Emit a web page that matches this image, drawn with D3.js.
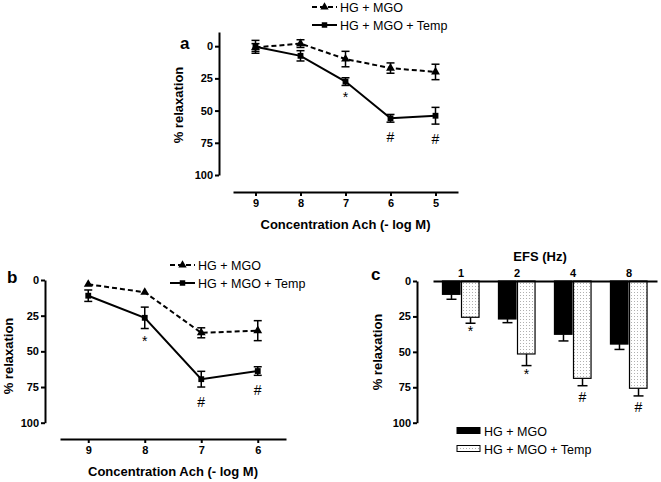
<!DOCTYPE html>
<html><head><meta charset="utf-8">
<script src="https://cdn.jsdelivr.net/npm/d3@7"></script>
<style>
body{margin:0;background:#fff;}
svg{display:block;font-family:"Liberation Sans",Arial,sans-serif;}
</style></head>
<body>
<svg id="c" width="661" height="482"></svg>
<script>
// ---------- DATA ----------
const concA = ["9","8","7","6","5"];
const aMGO = [1, -2, 10, 17, 20];
const aMGOErr = [3, 3, 6, 4, 6];
const aTemp = [0.5, 7.5, 27.5, 56, 54];
const aTempErr = [5, 4, 3, 3, 6.5];
const aMarks = ["", "", "*", "#", "#"];

const concB = ["9","8","7","6"];
const bMGO = [3, 8.6, 37, 35.5];
const bMGOErr = [0, 0, 3.5, 7];
const bTemp = [11, 26.5, 69.5, 63.8];
const bTempErr = [4, 7.5, 5.5, 3];
const bMarks = ["", "*", "#", "#"];

const freqC = ["1","2","4","8"];
const cMGO = [9.4, 26.8, 37.6, 44.5];
const cMGOErr = [3.5, 2.6, 4.7, 3.8];
const cTemp = [25.6, 51.5, 68.7, 75.7];
const cTempErr = [4.2, 8.2, 5.2, 5.4];
const cMarks = ["*", "*", "#", "#"];

const yTicks = [0, 25, 50, 75, 100];
const seriesNames = ["HG + MGO", "HG + MGO + Temp"];

// ---------- DRAW ----------
const svg = d3.select("#c");
svg.append("defs").append("pattern")
  .attr("id","dots").attr("patternUnits","userSpaceOnUse")
  .attr("width",3).attr("height",3)
  .call(p=>{
    p.append("rect").attr("width",3).attr("height",3).attr("fill","#fff");
    p.append("rect").attr("x",1).attr("y",1).attr("width",1).attr("height",1).attr("fill","#b0b0b0");
  });

function styleAxis(g){
  g.selectAll(".domain").attr("stroke","#000").attr("stroke-width",2);
  g.selectAll(".tick line").attr("stroke","#000").attr("stroke-width",2);
  g.selectAll(".tick text").attr("font-size",11).attr("font-weight","bold")
    .attr("font-family","'Liberation Sans',Arial,sans-serif").attr("fill","#000");
}

function linePanel(o){
  const x = d3.scalePoint().domain(o.cats).range(o.xr).padding(0.5);
  const y = d3.scaleLinear().domain(o.yd).range(o.yr);
  const g = svg.append("g");
  g.append("g").attr("transform",`translate(${o.yAxisX},0)`)
    .call(d3.axisLeft(y).tickValues(yTicks).tickSize(4).tickSizeOuter(0).tickPadding(2))
    .call(styleAxis);
  g.append("g").attr("transform",`translate(0,${o.xAxisY})`)
    .call(d3.axisBottom(x).tickSize(4).tickSizeOuter(0).tickPadding(3))
    .call(styleAxis);
  g.append("text").attr("x",(o.xr[0]+o.xr[1])/2).attr("y",o.xAxisY+37)
    .attr("text-anchor","middle").attr("font-size",13).attr("font-weight","bold")
    .text("Concentration Ach (- log M)");
  g.append("text").attr("transform",`translate(${o.labelX},${o.labelY}) rotate(-90)`)
    .attr("text-anchor","middle").attr("font-size",13).attr("font-weight","bold")
    .text("% relaxation");
  g.append("text").attr("x",o.letterX).attr("y",o.letterY)
    .attr("font-size",17).attr("font-weight","bold").text(o.letter);

  const series = [
    {v:o.mgo, e:o.mgoErr, dash:"5,3", sym:d3.symbolTriangle},
    {v:o.temp, e:o.tempErr, dash:null, sym:d3.symbolSquare}
  ];
  series.forEach(s=>{
    const line = d3.line().x((d,i)=>x(o.cats[i])).y(d=>y(d));
    g.append("path").datum(s.v).attr("d",line).attr("fill","none")
      .attr("stroke","#000").attr("stroke-width",2)
      .attr("stroke-dasharray",s.dash);
    s.v.forEach((d,i)=>{
      const cx = x(o.cats[i]);
      if(s.e[i]>0){
        const y1=y(d-s.e[i]), y2=y(d+s.e[i]);
        g.append("line").attr("x1",cx).attr("x2",cx).attr("y1",y1).attr("y2",y2)
          .attr("stroke","#000").attr("stroke-width",1.5);
        [y1,y2].forEach(yy=>g.append("line").attr("x1",cx-4).attr("x2",cx+4)
          .attr("y1",yy).attr("y2",yy).attr("stroke","#000").attr("stroke-width",1.5));
      }
      g.append("path").attr("d",d3.symbol(s.sym, 34)())
        .attr("transform",`translate(${cx},${y(d)})`).attr("fill","#000");
    });
  });
  o.marks.forEach((m,i)=>{
    if(!m) return;
    const yy = y(o.temp[i]+o.tempErr[i]) + (m==="*"?17:20);
    g.append("text").attr("x",x(o.cats[i])).attr("y",yy)
      .attr("text-anchor","middle").attr("font-size",14).text(m);
  });
  series.forEach((s,i)=>{
    const ly = o.legY + i*18;
    g.append("line").attr("x1",o.legX).attr("x2",o.legX+25).attr("y1",ly).attr("y2",ly)
      .attr("stroke","#000").attr("stroke-width",2).attr("stroke-dasharray",s.dash);
    g.append("path").attr("d",d3.symbol(s.sym,30)()).attr("transform",`translate(${o.legX+12.5},${ly})`);
    g.append("text").attr("x",o.legX+28).attr("y",ly+4.5).attr("font-size",12.5).text(seriesNames[i]);
  });
}

linePanel({cats:concA, mgo:aMGO, mgoErr:aMGOErr, temp:aTemp, tempErr:aTempErr, marks:aMarks,
  xr:[233,458], yd:[-11,100], yr:[32,175], yAxisX:219, xAxisY:192, labelX:183, labelY:105,
  letter:"a", letterX:180, letterY:49, legX:312, legY:7});
linePanel({cats:concB, mgo:bMGO, mgoErr:bMGOErr, temp:bTemp, tempErr:bTempErr, marks:bMarks,
  xr:[60,286], yd:[0,100], yr:[280,422.7], yAxisX:45, xAxisY:439, labelX:13, labelY:356,
  letter:"b", letterX:7, letterY:283, legX:170, legY:265});

// panel c
(function(){
  const x0 = d3.scaleBand().domain(freqC).range([433,657]).paddingInner(0.32).paddingOuter(0.16);
  const x1 = d3.scaleBand().domain([0,1]).range([0,x0.bandwidth()]);
  const y = d3.scaleLinear().domain([0,100]).range([281,422.7]);
  const g = svg.append("g");
  const data = [[cMGO,cMGOErr],[cTemp,cTempErr]];
  data.forEach((s,k)=>{
    s[0].forEach((v,i)=>{
      const bx = x0(freqC[i])+x1(k);
      const w = x1.bandwidth();
      const cx = bx + w/2;
      const ye = y(v+s[1][i]);
      g.append("line").attr("x1",cx).attr("x2",cx).attr("y1",y(v)).attr("y2",ye)
        .attr("stroke","#000").attr("stroke-width",1.5);
      g.append("line").attr("x1",cx-5).attr("x2",cx+5).attr("y1",ye).attr("y2",ye)
        .attr("stroke","#000").attr("stroke-width",1.5);
      g.append("rect").attr("x",bx+0.5).attr("y",y(0)).attr("width",w-1.5)
        .attr("height",y(v)-y(0))
        .attr("fill",k===0?"#000":"url(#dots)").attr("stroke","#000").attr("stroke-width",1.2);
    });
  });
  cMarks.forEach((m,i)=>{
    const cx = x0(freqC[i])+x1(1)+x1.bandwidth()/2;
    const yy = y(cTemp[i]+cTempErr[i]) + (m==="*"?13:16);
    g.append("text").attr("x",cx).attr("y",yy).attr("text-anchor","middle")
      .attr("font-size",14).text(m);
  });
  g.append("g").attr("transform","translate(417,0)")
    .call(d3.axisLeft(y).tickValues(yTicks).tickSize(4).tickSizeOuter(0).tickPadding(2))
    .call(styleAxis);
  g.append("g").attr("transform","translate(0,281)")
    .call(d3.axisTop(x0).tickSize(0).tickSizeOuter(0).tickPadding(4))
    .call(styleAxis);
  g.append("text").attr("x",540).attr("y",261).attr("text-anchor","middle")
    .attr("font-size",13).attr("font-weight","bold").text("EFS (Hz)");
  g.append("text").attr("transform","translate(382,352) rotate(-90)")
    .attr("text-anchor","middle").attr("font-size",13).attr("font-weight","bold").text("% relaxation");
  g.append("text").attr("x",371).attr("y",280).attr("font-size",17).attr("font-weight","bold").text("c");
  [0,1].forEach(k=>{
    const ly = 431 + k*18;
    g.append("rect").attr("x",457).attr("y",ly-3.5).attr("width",23).attr("height",6)
      .attr("fill",k===0?"#000":"url(#dots)").attr("stroke","#000").attr("stroke-width",1);
    g.append("text").attr("x",484).attr("y",ly+4.5).attr("font-size",12.5).text(seriesNames[k]);
  });
})();
</script>
</body></html>
